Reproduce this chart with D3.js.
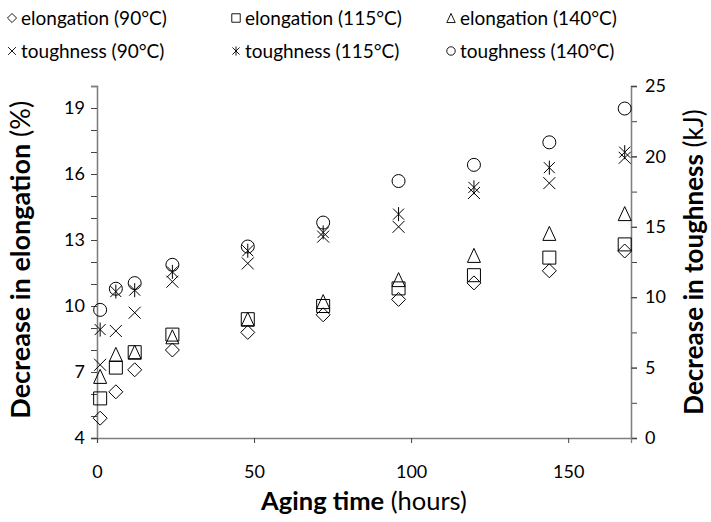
<!DOCTYPE html>
<html>
<head>
<meta charset="utf-8">
<script src="https://cdn.jsdelivr.net/npm/d3@7"></script>
<style>
  body { margin: 0; background: #fff; }
  svg text { font-family: Lato, "Open Sans", sans-serif; fill: #000; }
</style>
</head>
<body>
<svg id="plot"></svg>
<script>
// data
const hours = [1, 6, 12, 24, 48, 72, 96, 120, 144, 168];
const elong90 = [4.9, 6.1, 7.1, 8.0, 8.8, 9.6, 10.3, 11.05, 11.6, 12.5];
const elong115 = [5.8, 7.2, 7.9, 8.7, 9.4, 10.0, 10.8, 11.4, 12.2, 12.8];
const elong140 = [6.8, 7.8, 7.9, 8.6, 9.4, 10.2, 11.2, 12.3, 13.3, 14.2];
const tough90 = [5.2, 7.6, 8.9, 11.1, 12.4, 14.3, 15.0, 17.4, 18.1, 19.9];
const tough115 = [7.7, 10.4, 10.5, 11.8, 13.3, 14.6, 15.9, 17.8, 19.2, 20.3];
const tough140 = [9.1, 10.6, 11.0, 12.3, 13.6, 15.3, 18.25, 19.4, 21.0, 23.4];

const xTicks = [0, 50, 100, 150];
const leftTicks = [4, 7, 10, 13, 16, 19];
const rightTicks = [0, 5, 10, 15, 20, 25];

// init setting
const svg = d3.select("#plot")
    .attr("width", 711)
    .attr("height", 522);

const axisColor = "#7f7f7f";

const xScale = d3.scaleLinear().domain([0, 170]).range([97, 631]);
const yLeft = d3.scaleLinear().domain([4, 20]).range([438, 86]);
const yRight = d3.scaleLinear().domain([0, 25]).range([438, 86]);

// marker shapes
const shapes = {
    diamond: "M0,-7L7,0L0,7L-7,0Z",
    square: "M-6.5,-6.5h13v13h-13Z",
    triangle: "M0,-7L6.5,7L-6.5,7Z",
    cross: "M-6,-6L6,6M-6,6L6,-6",
    star: "M-5.5,-5.5L5.5,5.5M-5.5,5.5L5.5,-5.5M0,-7L0,7",
    circle: "M6.5,0A6.5,6.5 0 1,1 -6.5,0A6.5,6.5 0 1,1 6.5,0Z"
};

const series = [
    { name: "elongation (90°C)", values: elong90, shape: "diamond", axis: "left" },
    { name: "elongation (115°C)", values: elong115, shape: "square", axis: "left" },
    { name: "elongation (140°C)", values: elong140, shape: "triangle", axis: "left" },
    { name: "toughness (90°C)", values: tough90, shape: "cross", axis: "right" },
    { name: "toughness (115°C)", values: tough115, shape: "star", axis: "right" },
    { name: "toughness (140°C)", values: tough140, shape: "circle", axis: "right" }
];

// left axis
const leftAxis = svg.append("g")
    .attr("transform", `translate(${xScale(0)},0)`)
    .call(d3.axisLeft(yLeft).tickValues(d3.range(4, 21, 1)).tickSize(6).tickFormat(""));
leftAxis.call(g => g.append("g").call(d3.axisLeft(yLeft).tickValues(leftTicks).tickSize(6)));

// right axis
const rightAxis = svg.append("g")
    .attr("transform", `translate(${xScale(170)},0)`)
    .call(d3.axisRight(yRight).tickValues(d3.range(0, 25.1, 2.5)).tickSize(6).tickFormat(""));
rightAxis.call(g => g.append("g").call(d3.axisRight(yRight).tickValues(rightTicks).tickSize(6)));

// x axis
const xAxis = svg.append("g")
    .attr("transform", `translate(0,${yLeft(4)})`)
    .call(d3.axisBottom(xScale).tickValues(xTicks).tickSize(5).tickPadding(22));

svg.selectAll(".domain").attr("stroke", axisColor).attr("stroke-width", 1.3);
svg.selectAll(".tick line").attr("stroke", "#444");
svg.selectAll(".tick text")
    .style("font-family", "Lato, sans-serif")
    .style("font-size", "18px")
    .attr("fill", "#000");
leftAxis.selectAll(".tick text").attr("x", -12);
rightAxis.selectAll(".tick text").attr("x", 14);

// dots
series.forEach(s => {
    const yScale = s.axis === "left" ? yLeft : yRight;
    svg.append("g").selectAll("path")
        .data(s.values)
        .enter().append("path")
        .attr("d", shapes[s.shape])
        .attr("transform", (d, i) => `translate(${xScale(hours[i])},${yScale(d)})`)
        .attr("fill", "none")
        .attr("stroke", "#000")
        .attr("stroke-width", 1);
});

// legend
const legendCols = [12, 236, 451];
const legendRows = [18, 51];
series.forEach((s, i) => {
    const lx = legendCols[i % 3];
    const ly = legendRows[Math.floor(i / 3)];
    svg.append("path")
        .attr("d", shapes[s.shape])
        .attr("transform", `translate(${lx},${ly}) scale(0.65)`)
        .attr("fill", "none")
        .attr("stroke", "#000")
        .attr("stroke-width", 1.4);
    svg.append("text")
        .attr("x", lx + 9)
        .attr("y", ly + 7)
        .style("font-size", "19px")
        .text(s.name);
});

// axis titles
const leftTitle = svg.append("text")
    .attr("transform", `translate(30,${yLeft(12.1)}) rotate(-90)`)
    .style("text-anchor", "middle")
    .style("font-size", "27px");
leftTitle.append("tspan").style("font-weight", "bold").text("Decrease in elongation");
leftTitle.append("tspan").text(" (%)");

const rightTitle = svg.append("text")
    .attr("transform", `translate(703,${yLeft(12)}) rotate(-90)`)
    .style("text-anchor", "middle")
    .style("font-size", "26px");
rightTitle.append("tspan").style("font-weight", "bold").text("Decrease in toughness");
rightTitle.append("tspan").text(" (kJ)");

const xTitle = svg.append("text")
    .attr("x", xScale(85))
    .attr("y", 510)
    .style("text-anchor", "middle")
    .style("font-size", "25.5px");
xTitle.append("tspan").style("font-weight", "bold").text("Aging time");
xTitle.append("tspan").text(" (hours)");
</script>
</body>
</html>
